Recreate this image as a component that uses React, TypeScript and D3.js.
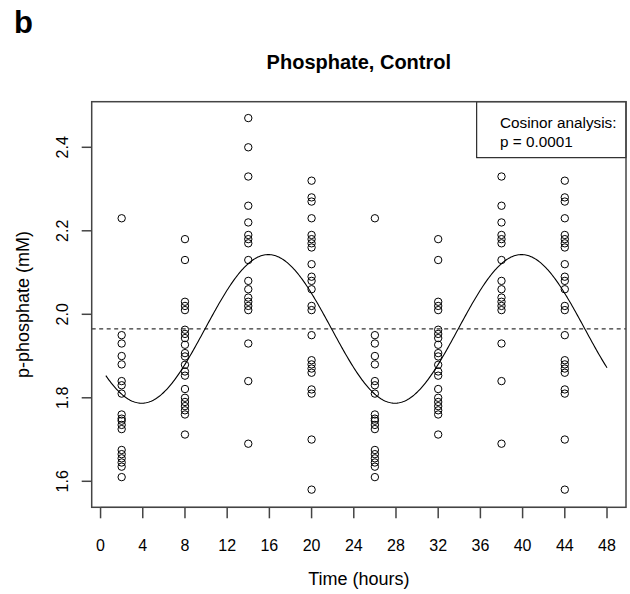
import React from "react";
import * as d3 from "d3";

const timesFirst = [2, 8, 14, 20];
const cycleOffset = 24;

const valuesT2 = [2.23, 1.95, 1.93, 1.9, 1.88, 1.84, 1.83, 1.81, 1.76, 1.75, 1.745, 1.735, 1.725, 1.675, 1.665, 1.655, 1.645, 1.635, 1.61];
const valuesT8 = [2.18, 2.13, 2.03, 2.02, 2.01, 1.963, 1.953, 1.943, 1.927, 1.907, 1.899, 1.879, 1.863, 1.853, 1.821, 1.8, 1.79, 1.78, 1.77, 1.76, 1.712];
const valuesT14 = [2.47, 2.4, 2.33, 2.26, 2.22, 2.19, 2.18, 2.17, 2.13, 2.08, 2.06, 2.04, 2.03, 2.02, 2.01, 1.93, 1.84, 1.69];
const valuesT20 = [2.32, 2.28, 2.27, 2.23, 2.19, 2.18, 2.17, 2.16, 2.12, 2.09, 2.08, 2.06, 2.02, 2.01, 1.95, 1.89, 1.88, 1.87, 1.86, 1.82, 1.81, 1.7, 1.58];

const xTicks = [0, 4, 8, 12, 16, 20, 24, 28, 32, 36, 40, 44, 48];
const yTicks = [1.6, 1.8, 2.0, 2.2, 2.4];

const mesor = 1.965;
const amplitude = 0.178;
const acrophase = 15.9;
const period = 24;
const curveStart = 0.5;
const curveEnd = 48;

const title = "Phosphate, Control";
const xLabel = "Time (hours)";
const yLabel = "p-phosphate (mM)";
const legendLines = ["Cosinor analysis:", "p = 0.0001"];

export default function App() {
  const left = 91.7, right = 626, top = 101.7, bottom = 507.3;
  const x = d3.scaleLinear().domain([-0.84, 49.8]).range([left, right]);
  const y = d3.scaleLinear().domain([1.5377, 2.5092]).range([bottom, top]);

  const groups = [valuesT2, valuesT8, valuesT14, valuesT20];
  const points: { t: number; v: number }[] = [];
  groups.forEach((vals, i) => {
    vals.forEach((v) => {
      points.push({ t: timesFirst[i], v });
      points.push({ t: timesFirst[i] + cycleOffset, v });
    });
  });

  const curveTs = d3.range(curveStart, curveEnd + 0.0001, 0.1);
  const line = d3
    .line<number>()
    .x((t) => x(t))
    .y((t) => y(mesor + amplitude * Math.cos((2 * Math.PI * (t - acrophase)) / period)));

  const font = "'Liberation Sans', Arial, Helvetica, sans-serif";
  const axisColor = "#444";
  const legendLeft = 476.7, legendBottom = 157.7;

  return (
    <svg width={630} height={594} style={{ position: "absolute", left: 0, top: 0, background: "#fff" }} fontFamily={font}>
      <rect x={0} y={0} width={630} height={594} fill="#fff" />
      <text x={14} y={33} fontSize={31} fontWeight="bold">b</text>
      <text x={(left + right) / 2} y={69} fontSize={20} fontWeight="bold" textAnchor="middle">{title}</text>

      {/* dashed mesor line */}
      <line x1={left} x2={right} y1={y(mesor)} y2={y(mesor)} stroke="#000" strokeWidth={1} strokeDasharray="4,3.5" />

      {/* points */}
      {points.map((p, i) => (
        <circle key={i} cx={x(p.t)} cy={y(p.v)} r={3.7} fill="none" stroke="#000" strokeWidth={1} />
      ))}

      {/* cosinor curve */}
      <path d={line(curveTs) || ""} fill="none" stroke="#000" strokeWidth={1.1} />

      {/* legend box */}
      <rect x={legendLeft} y={top} width={right - legendLeft} height={legendBottom - top} fill="#fff" stroke="#000" strokeWidth={1} />
      {legendLines.map((s, i) => (
        <text key={i} x={500} y={128 + i * 19} fontSize={15.3}>{s}</text>
      ))}

      {/* plot box */}
      <rect x={left} y={top} width={right - left} height={bottom - top} fill="none" stroke={axisColor} strokeWidth={1.5} />

      {/* x axis */}
      <line x1={x(xTicks[0])} x2={x(xTicks[xTicks.length - 1])} y1={bottom} y2={bottom} stroke={axisColor} strokeWidth={1} />
      {xTicks.map((t) => (
        <g key={t}>
          <line x1={x(t)} x2={x(t)} y1={bottom} y2={bottom + 11} stroke={axisColor} strokeWidth={1.5} />
          <text x={x(t)} y={551} fontSize={16} textAnchor="middle">{t}</text>
        </g>
      ))}
      <text x={(left + right) / 2} y={585} fontSize={18} textAnchor="middle">{xLabel}</text>

      {/* y axis */}
      {yTicks.map((v) => (
        <g key={v}>
          <line x1={left - 10} x2={left} y1={y(v)} y2={y(v)} stroke={axisColor} strokeWidth={1.5} />
          <text transform={`translate(68,${y(v)}) rotate(-90)`} fontSize={16} textAnchor="middle">{v.toFixed(1)}</text>
        </g>
      ))}
      <text transform={`translate(29,${(top + bottom) / 2}) rotate(-90)`} fontSize={18} textAnchor="middle">{yLabel}</text>
    </svg>
  );
}
